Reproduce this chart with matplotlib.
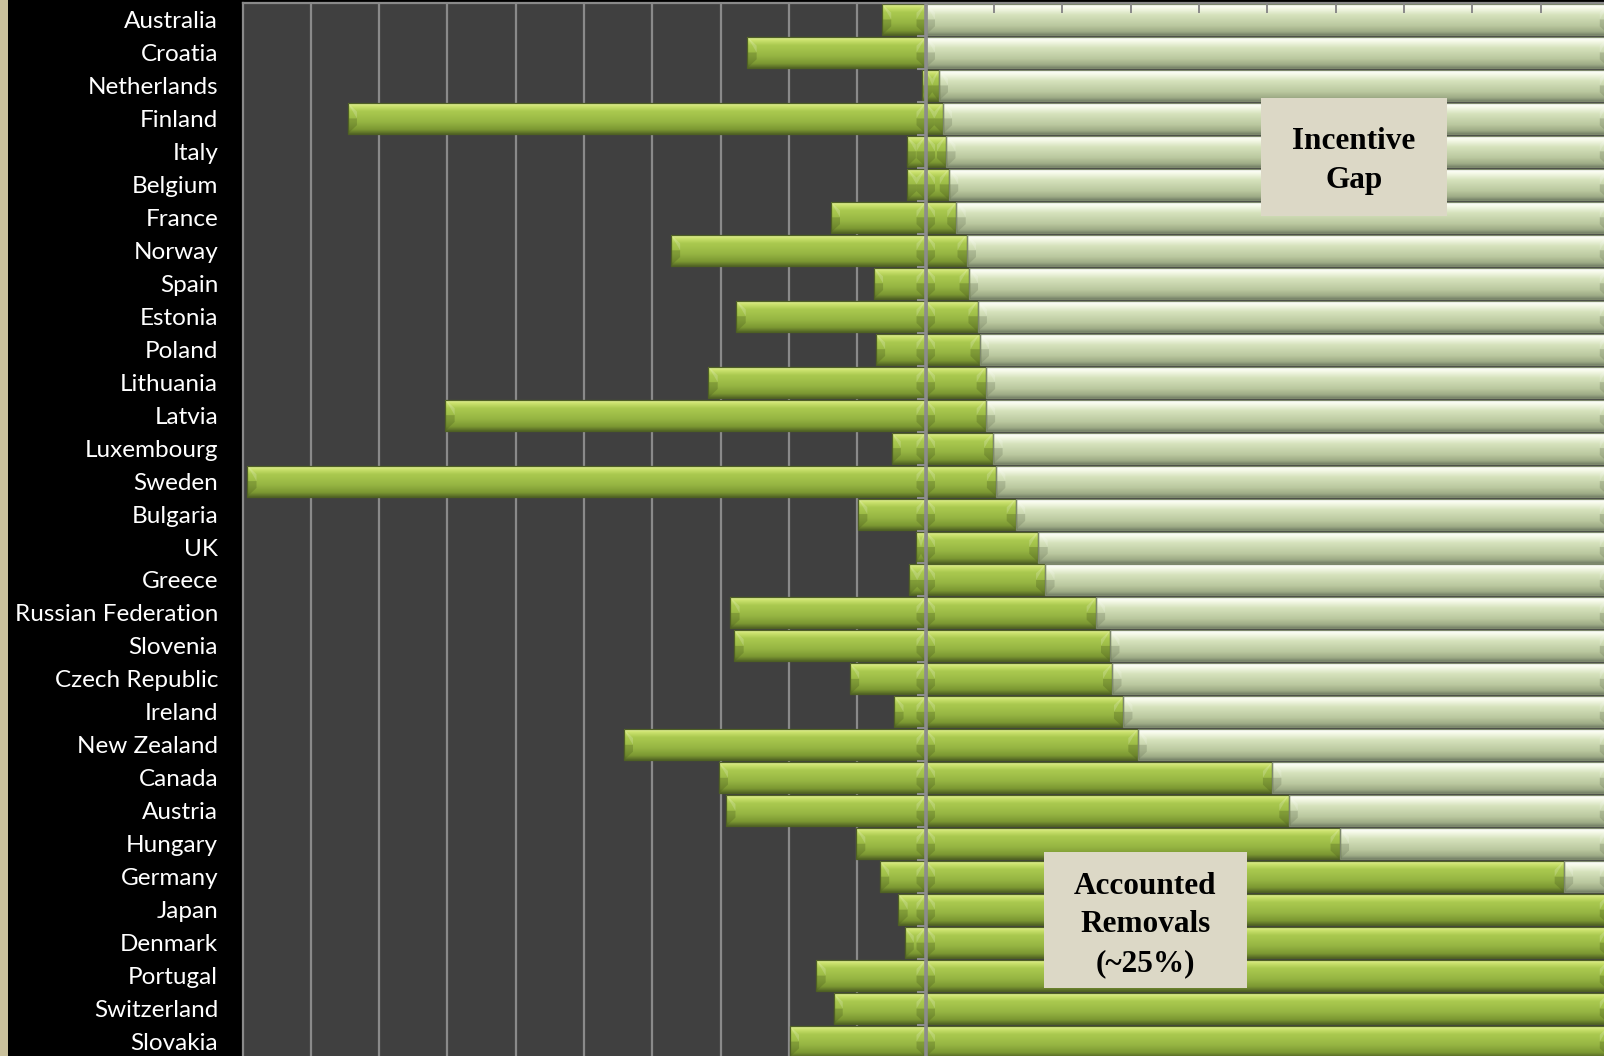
import numpy as np
import matplotlib
matplotlib.use("Agg")
import matplotlib.pyplot as plt
from matplotlib.colors import LinearSegmentedColormap
from matplotlib.patches import Rectangle, Polygon

# ---- data -------------------------------------------------------------
countries = [
    "Australia", "Croatia", "Netherlands", "Finland", "Italy", "Belgium",
    "France", "Norway", "Spain", "Estonia", "Poland", "Lithuania", "Latvia",
    "Luxembourg", "Sweden", "Bulgaria", "UK", "Greece", "Russian Federation",
    "Slovenia", "Czech Republic", "Ireland", "New Zealand", "Canada",
    "Austria", "Hungary", "Germany", "Japan", "Denmark", "Portugal",
    "Switzerland", "Slovakia",
]
# left-hand bars (negative side)
unaccounted = [
    -6.4, -26.1, -0.6, -84.6, -2.8, -2.7, -13.9, -37.3, -7.6, -27.7, -7.3,
    -31.8, -70.3, -5.0, -99.3, -9.9, -1.4, -2.5, -28.6, -28.0, -11.1, -4.6,
    -44.2, -30.3, -29.2, -10.2, -6.7, -4.0, -3.1, -16.0, -13.5, -19.9,
]
# accounted removals, % of total
accounted = [
    0.0, 0.0, 1.9, 2.5, 3.0, 3.4, 4.5, 6.0, 6.3, 7.6, 7.9, 8.8, 8.8, 9.9,
    10.3, 13.2, 16.5, 17.5, 24.9, 27.0, 27.3, 28.9, 31.0, 50.7, 53.1, 60.6,
    93.4, 100.0, 100.0, 100.0, 100.0, 100.0,
]
total = 100.0
gap = [total - a for a in accounted]

# ---- styling ----------------------------------------------------------
W, H = 1604, 1056
fig = plt.figure(figsize=(W / 100, H / 100), dpi=100, facecolor="black")

# thin beige strip at the far left
fig.patches.append(Rectangle((0, 0), 8 / W, 1, transform=fig.transFigure,
                             facecolor="#c9c09b", edgecolor="none"))

ax_left, ax_right = 242.5, 1609.0
ax_top, row_px = 3.0, 32.97
n = len(countries)
ax_bottom = ax_top + n * row_px
ax = fig.add_axes([ax_left / W, 1 - ax_bottom / H,
                   (ax_right - ax_left) / W, (ax_bottom - ax_top) / H])
ax.set_facecolor("#404040")
ax.set_xlim(-100, 100)
ax.set_ylim(n - 0.5, -0.5)

green_cmap = LinearSegmentedColormap.from_list("green_bevel", [
    (0.00, "#eaf8a8"), (0.08, "#cfe472"), (0.25, "#abca50"),
    (0.60, "#97b643"), (0.86, "#7c9833"), (1.00, "#556826")])
pale_cmap = LinearSegmentedColormap.from_list("pale_bevel", [
    (0.00, "#ffffff"), (0.12, "#f6faea"), (0.35, "#d6e2bc"),
    (0.70, "#bac89f"), (0.90, "#9eab86"), (1.00, "#78836a")])
grad = np.linspace(0, 1, 64).reshape(-1, 1)

bar_h = 0.94
cap_w = 1.35   # width of the bevelled end facets, in data units


def end_facets(lo, hi, y, dark):
    top, bot = y - bar_h / 2, y + bar_h / 2
    w = min(cap_w, (hi - lo) / 2)
    inset = bar_h * 0.28
    for edge, sgn in ((lo, 1), (hi, -1)):
        # upper-side facet (light), lower-side facet (dark)
        ax.add_patch(Polygon([(edge, top), (edge + sgn * w, top + inset),
                              (edge + sgn * w, y)],
                             closed=True, facecolor="white", alpha=0.18,
                             edgecolor="none", zorder=2.05))
        ax.add_patch(Polygon([(edge, bot), (edge + sgn * w, bot - inset),
                              (edge + sgn * w, y), (edge, y)],
                             closed=True, facecolor=dark, alpha=0.30,
                             edgecolor="none", zorder=2.05))


def bevel_bar(x0, x1, y, cmap, edge, dark):
    if abs(x1 - x0) < 1e-9:
        return
    lo, hi = min(x0, x1), max(x0, x1)
    ax.imshow(grad, cmap=cmap, aspect="auto", origin="upper",
              extent=(lo, hi, y + bar_h / 2, y - bar_h / 2),
              interpolation="bilinear", zorder=2)
    end_facets(lo, hi, y, dark)
    ax.add_patch(Rectangle((lo, y - bar_h / 2), hi - lo, bar_h,
                           facecolor="none", edgecolor=edge, lw=0.9,
                           zorder=2.1))


for i in range(n):
    bevel_bar(unaccounted[i], 0, i, green_cmap, "#4f6024", "#4a5c1c")
    bevel_bar(0, accounted[i], i, green_cmap, "#4f6024", "#4a5c1c")
    bevel_bar(accounted[i], accounted[i] + gap[i], i, pale_cmap, "#7d886c",
              "#6e7a5c")

# vertical gridlines on the left half
ax.vlines(np.arange(-90, 0, 10), -0.5, n - 0.5, color="#8a8a8a", lw=1.6,
          zorder=0.5)
# category axis at zero with its small tick marks
ax.axvline(0, color="#8c8c8c", lw=2.6, zorder=3)
ax.hlines(np.arange(-0.5, n, 1.0), -1.3, 0, color="#8c8c8c", lw=1.5,
          zorder=3)

# spines and ticks
for side in ("right", "bottom"):
    ax.spines[side].set_visible(False)
for side in ("left", "top"):
    ax.spines[side].set_color("#8a8a8a")
    ax.spines[side].set_linewidth(1.6)
ax.set_xticks(np.arange(-90, 100, 10))
ax.tick_params(axis="x", which="both", top=True, bottom=False,
               labeltop=False, labelbottom=False, direction="in",
               length=7, width=1.4, color="#8a8a8a")
ax.set_axisbelow(False)

ax.set_yticks(range(n))
ax.set_yticklabels(countries)
ax.tick_params(axis="y", left=False, pad=14, labelcolor="white",
               labelsize=17.5)
for lab in ax.get_yticklabels():
    lab.set_fontfamily("Lato")

# annotation boxes
box_color = "#dcd8c6"


def label_box(x0, y0, x1, y1, text, text_y):
    fig.patches.append(Rectangle((x0 / W, 1 - y1 / H), (x1 - x0) / W,
                                 (y1 - y0) / H, transform=fig.transFigure,
                                 facecolor=box_color, edgecolor="none",
                                 zorder=5))
    fig.text((x0 + x1) / 2 / W, 1 - text_y / H, text,
             ha="center", va="center", multialignment="center",
             family="Liberation Serif", weight="bold", fontsize=22.5,
             color="black", linespacing=1.45, zorder=6)


label_box(1261, 98, 1447, 216, "Incentive\nGap", 161)
label_box(1044, 852, 1247, 988, "Accounted\nRemovals\n(~25%)", 925)

fig.savefig("out.png", dpi=100, facecolor=fig.get_facecolor())
